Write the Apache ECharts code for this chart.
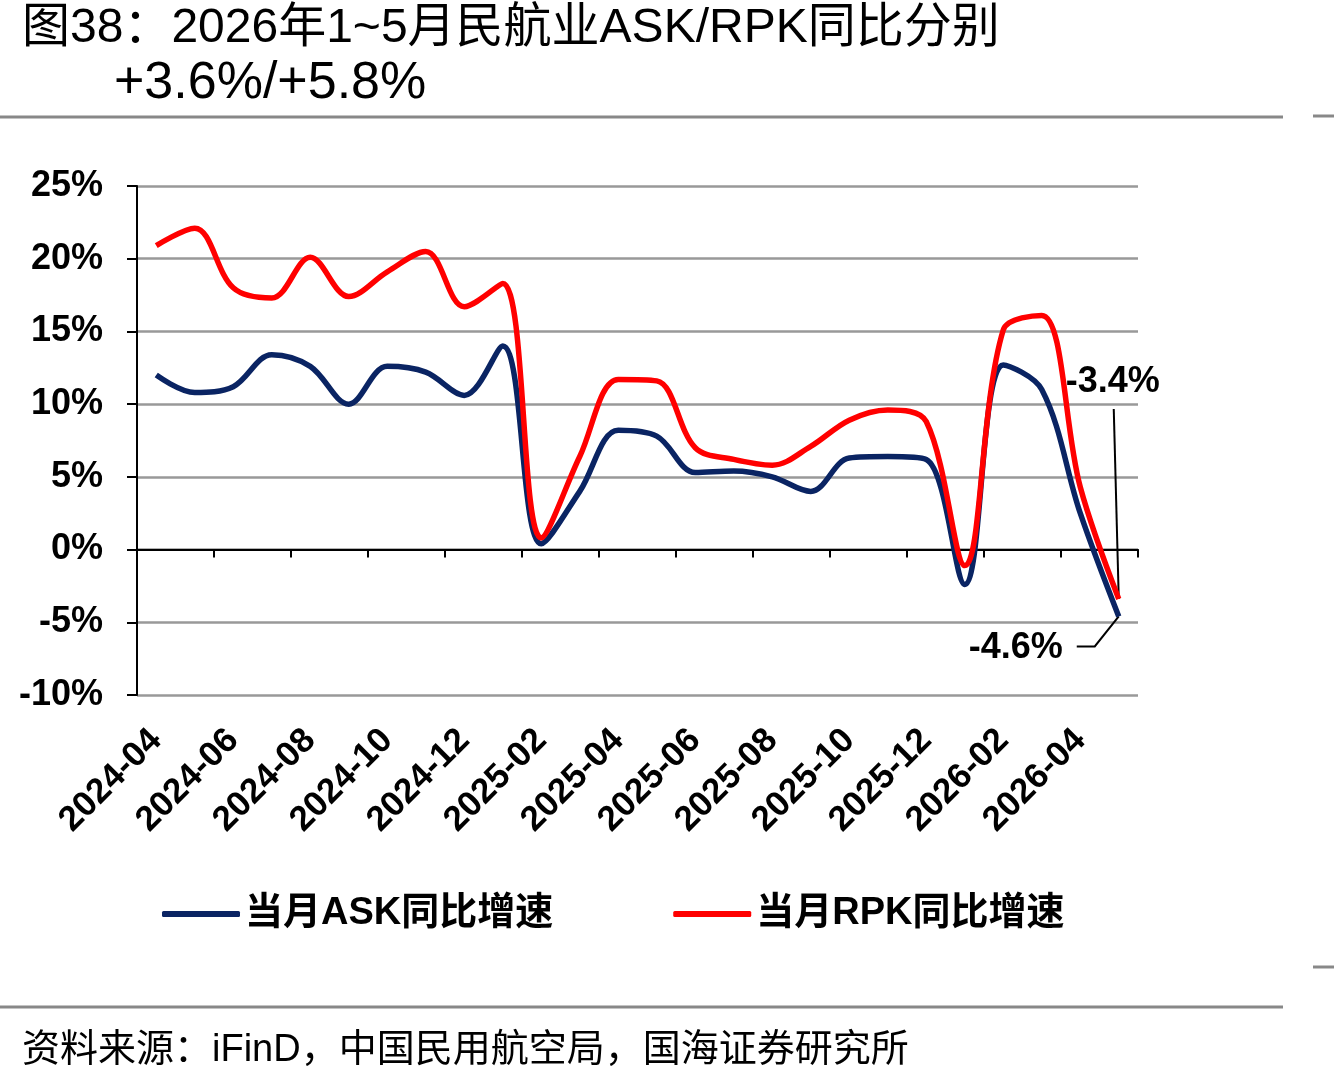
<!DOCTYPE html>
<html>
<head>
<meta charset="utf-8">
<script src="https://cdn.jsdelivr.net/npm/echarts@6/dist/echarts.min.js"></script>
<style>
html, body { margin: 0; padding: 0; background: #fff; }
#chart { width: 1334px; height: 1086px; }
</style>
</head>
<body>
<div id="chart"></div>
<script>
var months = [
  "2024-04", "2024-05", "2024-06", "2024-07", "2024-08", "2024-09", "2024-10", "2024-11", "2024-12",
  "2025-01", "2025-02", "2025-03", "2025-04", "2025-05", "2025-06", "2025-07", "2025-08", "2025-09",
  "2025-10", "2025-11", "2025-12", "2026-01", "2026-02", "2026-03", "2026-04", "2026-05"
];
// 当月ASK同比增速 (%)
var askData = [12.0, 10.8, 11.2, 13.4, 12.6, 10.0, 12.6, 12.2, 10.6, 14.0, 0.4, 4.0, 8.2,
  7.8, 5.3, 5.4, 5.0, 4.0, 6.3, 6.4, 6.2, -2.4, 12.7, 11.0, 2.5, -4.6];
// 当月RPK同比增速 (%)
var rpkData = [20.9, 22.1, 18.0, 17.3, 20.1, 17.4, 19.1, 20.5, 16.7, 18.3, 0.8, 6.4, 11.7,
  11.6, 7.0, 6.2, 5.8, 7.1, 8.9, 9.6, 8.8, -1.1, 15.1, 16.1, 4.3, -3.4];
var seriesNames = ["当月ASK同比增速", "当月RPK同比增速"];
var titleLines = ["图38：2026年1~5月民航业ASK/RPK同比分别", "+3.6%/+5.8%"];
var sourceText = "资料来源：iFinD，中国民用航空局，国海证券研究所";

var FONT = "'Liberation Sans', Arial, 'Noto Sans CJK SC', sans-serif";
var chart = echarts.init(document.getElementById("chart"));

var option = {
  backgroundColor: "#fff",
  animation: false,
  grid: { left: 137, right: 196, top: 186, bottom: 391 },
  legend: {
    data: seriesNames,
    left: 157,
    top: 890,
    itemWidth: 78,
    itemHeight: 6,
    itemGap: 120,
    icon: "roundRect",
    textStyle: { fontSize: 38, fontWeight: "bold", color: "#000", fontFamily: FONT }
  },
  xAxis: [
    {
      type: "category",
      data: months,
      position: "bottom",
      axisLine: { show: false, onZero: false },
      axisTick: { show: false },
      axisLabel: {
        interval: 1,
        rotate: 45,
        margin: 40,
        fontSize: 35,
        fontWeight: "bold",
        color: "#000",
        fontFamily: FONT
      },
      splitLine: { show: false }
    },
    {
      type: "category",
      data: months,
      position: "bottom",
      axisLine: { show: true, onZero: true, lineStyle: { color: "#000", width: 2 } },
      axisTick: { show: true, interval: 1, length: 8, lineStyle: { color: "#000", width: 2 } },
      axisLabel: { show: false },
      splitLine: { show: false }
    }
  ],
  yAxis: {
    type: "value",
    min: -10,
    max: 25,
    interval: 5,
    axisLine: { show: true, lineStyle: { color: "#000", width: 2 } },
    axisTick: { show: true, length: 10, lineStyle: { color: "#000", width: 2 } },
    axisLabel: {
      formatter: "{value}%",
      margin: 34,
      fontSize: 36,
      fontWeight: "bold",
      color: "#000",
      fontFamily: FONT
    },
    splitLine: { show: true, lineStyle: { color: "#999", width: 2.5 } }
  },
  series: [
    {
      name: seriesNames[0],
      type: "line",
      data: askData,
      smooth: 0.35,
      showSymbol: false,
      lineStyle: { color: "#0a2463", width: 5.5 },
      itemStyle: { color: "#0a2463" }
    },
    {
      name: seriesNames[1],
      type: "line",
      data: rpkData,
      smooth: 0.35,
      showSymbol: false,
      lineStyle: { color: "#ff0000", width: 5.5 },
      itemStyle: { color: "#ff0000" }
    }
  ]
};
chart.setOption(option);

// 末值标注，位置由数据点换算
var last = months.length - 1;
var pAsk = chart.convertToPixel({ seriesIndex: 0 }, [last, askData[last]]);
var pRpk = chart.convertToPixel({ seriesIndex: 1 }, [last, rpkData[last]]);

chart.setOption({
  graphic: [
    { type: "text", left: 22, top: 5, style: { text: titleLines[0], font: "48px " + FONT, fill: "#000" } },
    { type: "text", left: 114, top: 58, style: { text: titleLines[1], font: "52px " + FONT, fill: "#000" } },
    { type: "line", shape: { x1: 0, y1: 117, x2: 1283, y2: 117 }, style: { stroke: "#888", lineWidth: 3 } },
    { type: "line", shape: { x1: 1313, y1: 116, x2: 1334, y2: 116 }, style: { stroke: "#888", lineWidth: 3 } },
    { type: "line", shape: { x1: 0, y1: 1007, x2: 1283, y2: 1007 }, style: { stroke: "#888", lineWidth: 3 } },
    { type: "line", shape: { x1: 1313, y1: 967, x2: 1334, y2: 967 }, style: { stroke: "#888", lineWidth: 3 } },
    { type: "text", left: 22, top: 1032, style: { text: sourceText, font: "38px " + FONT, fill: "#000" } },
    {
      type: "text", x: pRpk[0] - 6, y: pRpk[1] - 217,
      style: { text: rpkData[last].toFixed(1) + "%", font: "bold 36px " + FONT, fill: "#000", align: "center", verticalAlign: "middle" }
    },
    { type: "line", shape: { x1: pRpk[0] - 5, y1: pRpk[1] - 190, x2: pRpk[0], y2: pRpk[1] }, style: { stroke: "#000", lineWidth: 2 } },
    {
      type: "text", x: pAsk[0] - 56, y: pAsk[1] + 32,
      style: { text: askData[last].toFixed(1) + "%", font: "bold 36px " + FONT, fill: "#000", align: "right", verticalAlign: "middle" }
    },
    {
      type: "polyline",
      shape: { points: [[pAsk[0] - 42, pAsk[1] + 30], [pAsk[0] - 24, pAsk[1] + 30], [pAsk[0], pAsk[1]]] },
      style: { stroke: "#000", lineWidth: 2, fill: null }
    }
  ]
});
</script>
</body>
</html>
